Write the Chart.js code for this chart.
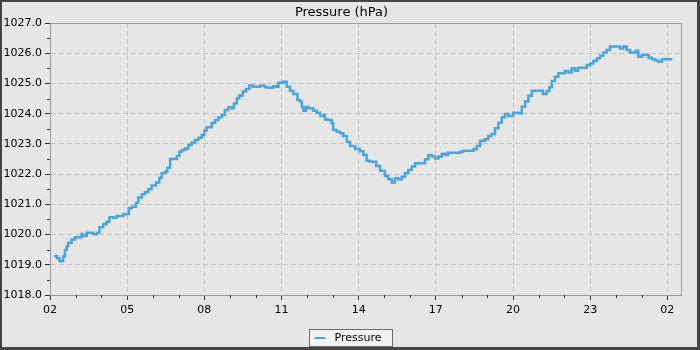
<!DOCTYPE html>
<html>
<head>
<meta charset="utf-8">
<script src="https://cdn.jsdelivr.net/npm/chart.js@4/dist/chart.umd.min.js"></script>
<style>
  body { margin: 0; background: #fff; }
  #wrap {
    width: 700px; height: 350px; box-sizing: border-box;
    border-style: solid; border-color: #454545; border-width: 2px 3px 3px 2px;
    background: #e6e6e6;
  }
  canvas { display: block; }
</style>
</head>
<body>
<div id="wrap"><canvas id="pressure" width="695" height="345"></canvas></div>
<script>
// time of reading, hours from midnight of first day (26.x = 02:xx next day)
var hours = [2.16, 2.27, 2.37, 2.51, 2.58, 2.65, 2.71, 2.84, 2.97, 3.23,
  3.28, 3.43, 3.68, 3.82, 3.92, 4.07, 4.20, 4.31, 4.46, 4.59,
  4.85, 5.07, 5.18, 5.34, 5.43, 5.57, 5.69, 5.82, 5.95, 6.12,
  6.25, 6.34, 6.47, 6.56, 6.67, 6.93, 7.03, 7.12, 7.25, 7.38,
  7.51, 7.64, 7.77, 7.90, 8.00, 8.09, 8.29, 8.42, 8.54, 8.68,
  8.80, 8.93, 9.06, 9.15, 9.26, 9.36, 9.49, 9.62, 9.75, 9.89,
  10.16, 10.36, 10.48, 10.67, 10.79, 10.88, 11.06, 11.20, 11.33, 11.46,
  11.62, 11.72, 11.79, 11.85, 11.95, 12.04, 12.24, 12.37, 12.50, 12.63,
  12.69, 12.82, 12.95, 13.01, 13.15, 13.28, 13.40, 13.54, 13.66, 13.86,
  14.05, 14.18, 14.31, 14.44, 14.68, 14.83, 15.02, 15.15, 15.29, 15.41,
  15.54, 15.67, 15.80, 15.93, 16.06, 16.19, 16.58, 16.71, 16.84, 16.97,
  17.10, 17.23, 17.36, 17.47, 17.94, 18.06, 18.46, 18.59, 18.72, 18.91,
  19.04, 19.17, 19.30, 19.43, 19.56, 19.69, 19.82, 20.01, 20.21, 20.34,
  20.47, 20.60, 20.73, 21.16, 21.31, 21.41, 21.51, 21.63, 21.76, 22.02,
  22.15, 22.28, 22.41, 22.53, 22.87, 23.00, 23.12, 23.26, 23.38, 23.51,
  23.64, 23.77, 24.16, 24.29, 24.42, 24.55, 24.78, 24.87, 25.01, 25.27,
  25.40, 25.53, 25.65, 25.79, 26.19]

var pressure = [1019.29, 1019.22, 1019.12, 1019.27, 1019.49, 1019.62, 1019.73, 1019.84, 1019.91, 1020.02,
  1019.95, 1020.06, 1020.01, 1020.06, 1020.24, 1020.35, 1020.42, 1020.57, 1020.56, 1020.61,
  1020.68, 1020.87, 1020.92, 1021.05, 1021.23, 1021.33, 1021.40, 1021.50, 1021.62, 1021.72,
  1021.88, 1022.03, 1022.08, 1022.21, 1022.50, 1022.60, 1022.74, 1022.80, 1022.85, 1022.96,
  1023.05, 1023.13, 1023.20, 1023.29, 1023.44, 1023.55, 1023.70, 1023.79, 1023.87, 1023.96,
  1024.12, 1024.21, 1024.18, 1024.34, 1024.51, 1024.60, 1024.73, 1024.82, 1024.93, 1024.89,
  1024.92, 1024.87, 1024.86, 1024.91, 1024.89, 1025.02, 1025.06, 1024.89, 1024.76, 1024.65,
  1024.45, 1024.40, 1024.21, 1024.10, 1024.23, 1024.18, 1024.10, 1024.03, 1023.92, 1023.96,
  1023.81, 1023.79, 1023.68, 1023.46, 1023.40, 1023.35, 1023.26, 1023.07, 1022.93, 1022.83,
  1022.76, 1022.63, 1022.44, 1022.41, 1022.27, 1022.11, 1021.94, 1021.83, 1021.72, 1021.86,
  1021.83, 1021.91, 1022.03, 1022.14, 1022.25, 1022.36, 1022.49, 1022.63, 1022.58, 1022.52,
  1022.58, 1022.67, 1022.63, 1022.71, 1022.74, 1022.77, 1022.82, 1022.93, 1023.10, 1023.15,
  1023.26, 1023.33, 1023.52, 1023.70, 1023.88, 1023.99, 1023.92, 1024.03, 1024.01, 1024.23,
  1024.40, 1024.59, 1024.76, 1024.65, 1024.75, 1024.87, 1025.08, 1025.22, 1025.34, 1025.41,
  1025.36, 1025.50, 1025.42, 1025.52, 1025.61, 1025.66, 1025.74, 1025.83, 1025.92, 1026.02,
  1026.11, 1026.22, 1026.16, 1026.22, 1026.11, 1026.02, 1026.08, 1025.88, 1025.94, 1025.85,
  1025.80, 1025.76, 1025.72, 1025.80, 1025.80]

var seriesName = "Pressure"
var chartTitle = "Pressure (hPa)"
var xRange = [2, 26.53]
var yRange = [1018, 1027]

var lineColor = "rgb(74, 166, 218)"
var gridColor = "#c3c3c3"
var frameColor = "#9a9a9a"

Chart.defaults.font.family = "'DejaVu Sans', sans-serif"
Chart.defaults.color = "#000"

var points = []
for (var i = 0; i < hours.length; i++) {
  points.push({ x: hours[i], y: pressure[i] })
}

function isMajorX(v) { return Math.round(v) % 3 === 2 }
function isMajorY(v) { return Math.abs(v - Math.round(v)) < 1e-6 }

// frame around plot, short minor ticks, boxed legend
var extras = {
  id: "extras",
  afterDraw: function (chart) {
    var ctx = chart.ctx
    var a = chart.chartArea
    ctx.save()
    ctx.strokeStyle = frameColor
    ctx.lineWidth = 1
    ctx.strokeRect(Math.round(a.left) + 0.5, Math.round(a.top) + 0.5,
      Math.round(a.right - a.left), Math.round(a.bottom - a.top))

    ctx.strokeStyle = "#333"
    ctx.beginPath()
    chart.scales.x.ticks.forEach(function (t) {
      if (isMajorX(t.value)) return
      var px = Math.round(chart.scales.x.getPixelForValue(t.value)) + 0.5
      ctx.moveTo(px, a.bottom)
      ctx.lineTo(px, a.bottom + 3)
    })
    chart.scales.y.ticks.forEach(function (t) {
      if (isMajorY(t.value)) return
      var py = Math.round(chart.scales.y.getPixelForValue(t.value)) + 0.5
      ctx.moveTo(a.left, py)
      ctx.lineTo(a.left - 3, py)
    })
    ctx.stroke()

    // legend
    var bw = 83, bh = 17
    var bx = Math.round((chart.width - bw) / 2) + 1.5
    var by = chart.height - bh - 0.5
    ctx.fillStyle = "#f2f2f2"
    ctx.fillRect(bx, by, bw, bh)
    ctx.strokeStyle = "#6a6a6a"
    ctx.strokeRect(bx, by, bw, bh)
    var cy = by + bh / 2
    ctx.strokeStyle = chart.data.datasets[0].borderColor
    ctx.lineWidth = 2
    ctx.beginPath()
    ctx.moveTo(bx + 5, cy)
    ctx.lineTo(bx + 16, cy)
    ctx.stroke()
    ctx.fillStyle = "#000"
    ctx.font = "11px 'DejaVu Sans'"
    ctx.textBaseline = "middle"
    ctx.fillText(chart.data.datasets[0].label, bx + 25, cy)
    ctx.restore()
  }
}

var cfg = {
  type: "line",
  data: {
    datasets: [
      {
        label: seriesName,
        data: points,
        borderColor: lineColor,
        backgroundColor: lineColor,
        borderWidth: 2.5,
        stepped: true,
        pointRadius: 0,
        fill: false
      }
    ]
  },
  options: {
    responsive: false,
    animation: false,
    layout: { padding: { left: 0, right: 16, top: 0, bottom: 28 } },
    plugins: {
      legend: { display: false },
      tooltip: { enabled: false },
      title: {
        display: true,
        text: chartTitle,
        font: { size: 13, weight: "normal" },
        color: "#000",
        padding: { top: 3, bottom: 2.4 }
      }
    },
    scales: {
      x: {
        type: "linear",
        min: xRange[0],
        max: xRange[1],
        afterFit: function (s) { s.height = 24 },
        border: { display: true, color: frameColor, dash: [5, 3] },
        grid: {
          color: function (c) { return c.tick && isMajorX(c.tick.value) ? gridColor : "rgba(0,0,0,0)" },
          tickColor: function (c) { return c.tick && isMajorX(c.tick.value) ? "#333" : "rgba(0,0,0,0)" },
          tickLength: 5
        },
        ticks: {
          stepSize: 1,
          autoSkip: false,
          maxRotation: 0,
          includeBounds: false,
          padding: 4,
          font: { size: 11 },
          callback: function (v) {
            return isMajorX(v) ? String(Math.round(v) % 24).padStart(2, "0") : ""
          }
        }
      },
      y: {
        min: yRange[0],
        max: yRange[1],
        afterFit: function (s) { s.width = 48 },
        border: { display: true, color: frameColor, dash: [5, 3] },
        grid: {
          color: function (c) { return c.tick && isMajorY(c.tick.value) ? gridColor : "rgba(0,0,0,0)" },
          tickColor: function (c) { return c.tick && isMajorY(c.tick.value) ? "#333" : "rgba(0,0,0,0)" },
          tickLength: 5
        },
        ticks: {
          stepSize: 0.5,
          autoSkip: false,
          padding: 3,
          font: { size: 11 },
          callback: function (v) { return isMajorY(v) ? v.toFixed(1) : "" }
        }
      }
    }
  },
  plugins: [extras]
}

var pressureChart = new Chart(document.getElementById("pressure"), cfg)
</script>
</body>
</html>
